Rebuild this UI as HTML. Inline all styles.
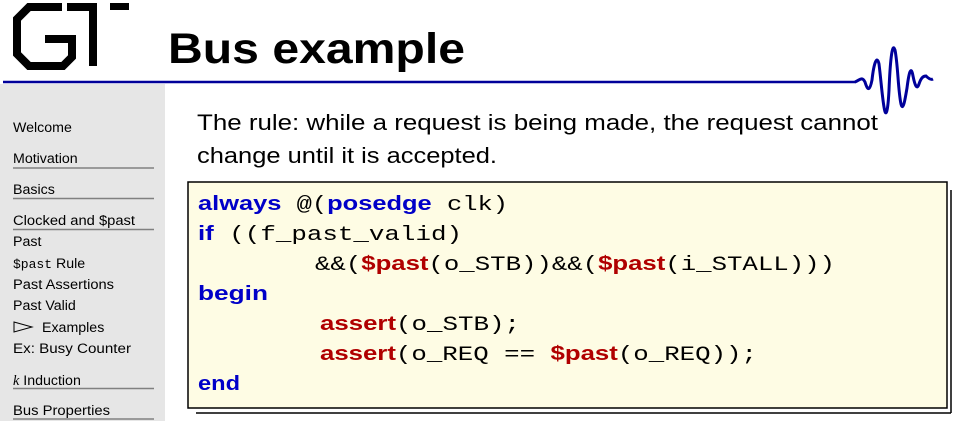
<!DOCTYPE html>
<html><head><meta charset="utf-8"><style>
html,body{margin:0;padding:0;background:#fff;}
svg{display:block;}
</style></head><body>
<svg width="953" height="421" viewBox="0 0 953 421" xmlns="http://www.w3.org/2000/svg">
<rect x="0" y="0" width="953" height="421" fill="#fff"/>
<rect x="0" y="84" width="165" height="337" fill="#e6e6e6"/>
<g fill="none" stroke="#000" stroke-width="8" stroke-linejoin="miter">
<polyline points="62,7 29,7 17,19 17,54 29,66 63,66 72,57 72,39 45,39"/>
<polyline points="67,7 93,7 93,66"/>
</g>
<rect x="110" y="3" width="19" height="7" fill="#000"/>
<text x="168" y="63" font-family="Liberation Sans, sans-serif" font-size="43" font-weight="bold" fill="#000" textLength="297" lengthAdjust="spacingAndGlyphs">Bus example</text>
<line x1="3" y1="82" x2="856" y2="82" stroke="#00009a" stroke-width="2.5"/>
<path d="M855,82 C860,80 862,76 865,82 C868,92 870,90 872,80 C874,62 877,55 879,64 C881,80 882,95 884,107 C886,120 888,110 889,90 C890,65 892,40 895,50 C898,65 898,90 901,104 C903,112 905,100 907,88 C909,72 911,65 913,76 C915,86 917,90 919,84 C921,78 923,76 926,76 C928,78 931,80 933,79" fill="none" stroke="#00009a" stroke-width="3"/>
<g font-family="Liberation Sans, sans-serif" font-size="14.2" fill="#000">
<text x="13" y="132">Welcome</text>
<text x="13" y="163">Motivation</text>
<text x="13" y="194">Basics</text>
<text x="13" y="225" textLength="122" lengthAdjust="spacingAndGlyphs">Clocked and $past</text>
<text x="13" y="246">Past</text>
<text x="13" y="268"><tspan font-family="Liberation Mono, monospace" font-size="13">$past</tspan> Rule</text>
<text x="13" y="289" textLength="101" lengthAdjust="spacingAndGlyphs">Past Assertions</text>
<text x="13" y="310">Past Valid</text>
<text x="42" y="332">Examples</text>
<text x="13" y="353" textLength="118" lengthAdjust="spacingAndGlyphs">Ex: Busy Counter</text>
<text x="13" y="385"><tspan font-family="Liberation Serif, serif" font-style="italic">k</tspan> Induction</text>
<text x="13" y="415" textLength="97" lengthAdjust="spacingAndGlyphs">Bus Properties</text>
</g>
<polygon points="14,322 32,327 14,332" fill="none" stroke="#000" stroke-width="1"/>
<g stroke="#808080" stroke-width="1.5">
<line x1="13" y1="168" x2="154" y2="168"/>
<line x1="13" y1="198.5" x2="154" y2="198.5"/>
<line x1="13" y1="229.5" x2="154" y2="229.5"/>
<line x1="13" y1="388.5" x2="154" y2="388.5"/>
<line x1="13" y1="419" x2="154" y2="419"/>
</g>
<g font-family="Liberation Sans, sans-serif" font-size="22" fill="#000">
<text x="197" y="130" textLength="681" lengthAdjust="spacingAndGlyphs">The rule: while a request is being made, the request cannot</text>
<text x="197" y="163" textLength="300" lengthAdjust="spacingAndGlyphs">change until it is accepted.</text>
</g>
<line x1="951" y1="190" x2="951" y2="413" stroke="#000" stroke-width="1.5"/>
<line x1="196" y1="413" x2="951" y2="413" stroke="#000" stroke-width="1.5"/>
<rect x="188" y="182" width="759" height="226" fill="#fefce4" stroke="#000" stroke-width="1.5"/>
<g font-family="Liberation Mono, monospace" font-size="20" fill="#000">
<text x="198" y="210" textLength="310" lengthAdjust="spacingAndGlyphs"><tspan fill="#0000c8" font-family="Liberation Sans, sans-serif" font-weight="bold">always</tspan> @(<tspan fill="#0000c8" font-family="Liberation Sans, sans-serif" font-weight="bold">posedge</tspan> clk)</text>
<text x="198" y="240" textLength="264" lengthAdjust="spacingAndGlyphs"><tspan fill="#0000c8" font-family="Liberation Sans, sans-serif" font-weight="bold">if</tspan>  ((f_past_valid)</text>
<text x="315" y="270" textLength="520" lengthAdjust="spacingAndGlyphs">&amp;&amp;(<tspan fill="#b00000" font-family="Liberation Sans, sans-serif" font-weight="bold">$past</tspan>(o_STB))&amp;&amp;(<tspan fill="#b00000" font-family="Liberation Sans, sans-serif" font-weight="bold">$past</tspan>(i_STALL)))</text>
<text x="198" y="300" textLength="70" lengthAdjust="spacingAndGlyphs" fill="#0000c8" font-family="Liberation Sans, sans-serif" font-weight="bold">begin</text>
<text x="320" y="330" textLength="200" lengthAdjust="spacingAndGlyphs"><tspan fill="#b00000" font-family="Liberation Sans, sans-serif" font-weight="bold">assert</tspan>(o_STB);</text>
<text x="320" y="360" textLength="437" lengthAdjust="spacingAndGlyphs"><tspan fill="#b00000" font-family="Liberation Sans, sans-serif" font-weight="bold">assert</tspan>(o_REQ == <tspan fill="#b00000" font-family="Liberation Sans, sans-serif" font-weight="bold">$past</tspan>(o_REQ));</text>
<text x="198" y="390" textLength="42" lengthAdjust="spacingAndGlyphs" fill="#0000c8" font-family="Liberation Sans, sans-serif" font-weight="bold">end</text>
</g>
</svg>
</body></html>
